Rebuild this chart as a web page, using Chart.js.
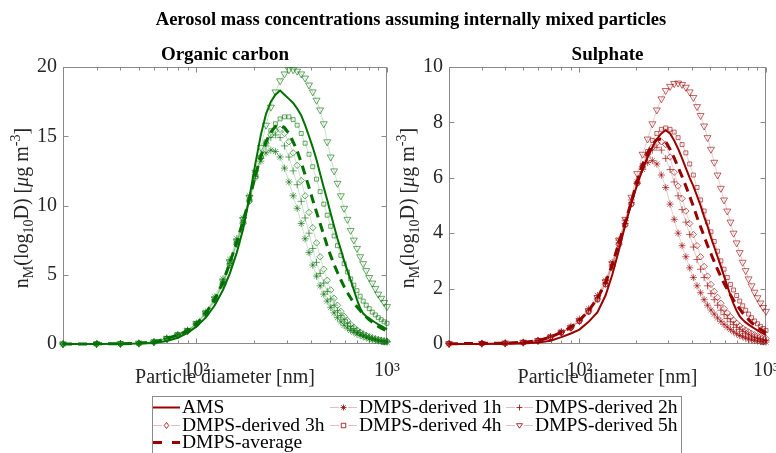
<!DOCTYPE html>
<html lang="en">
<head>
<meta charset="UTF-8">
<title>Aerosol mass concentrations</title>
<script src="https://cdn.jsdelivr.net/npm/chart.js"></script>
<style>
  body { margin: 0; background: #fff; }
  .wrap { position: relative; width: 776px; height: 453px; overflow: hidden; background: #fff; }
  .wrap canvas { position: absolute; left: 0; top: 0; }
</style>
</head>
<body>
<div class="wrap">
  <canvas id="ocChart" width="776" height="453"></canvas>
  <canvas id="so4Chart" width="776" height="453"></canvas>
</div>
<script>
// particle diameters [nm] of the plotted points
const diameters = [20, 30, 40, 50, 60, 70, 80, 90, 100, 112, 125, 138, 150, 163, 176, 190,
  204, 218, 232, 246, 260, 275, 290, 306, 322, 338, 355, 372, 390, 408,
  427, 446, 466, 486, 507, 528, 550, 573, 596, 620, 645, 670, 696, 723,
  750, 778, 807, 837, 868, 900, 933, 966, 1000];

// Organic carbon
const ocAms = [0, 0, 0.01, 0.03, 0.08, 0.22, 0.45, 0.8, 1.25, 1.9, 2.8, 3.9, 5.1, 6.6, 8.3, 10.6,
  13.0, 15.1, 16.6, 17.5, 18.0, 18.3, 18.0, 17.7, 17.4, 17.0, 16.5, 15.8, 15.0, 14.2,
  13.3, 12.3, 11.3, 10.4, 9.4, 8.5, 7.6, 6.8, 6.0, 5.3, 4.6, 3.9, 3.2, 2.6,
  2.2, 2.0, 1.85, 1.7, 1.55, 1.42, 1.3, 1.18, 1.05];
const oc1h = [0, 0.01, 0.02, 0.06, 0.16, 0.42, 0.68, 1.0, 1.5, 2.3, 3.4, 4.7, 6.1, 7.6, 9.1, 10.7,
  12.2, 13.2, 13.8, 14.0, 13.9, 13.5, 12.7, 11.7, 10.7, 9.8, 8.7, 7.6, 6.6, 5.7,
  4.9, 4.2, 3.6, 3.1, 2.65, 2.25, 1.9, 1.6, 1.35, 1.15, 0.98, 0.84, 0.72, 0.62,
  0.53, 0.45, 0.38, 0.32, 0.27, 0.23, 0.19, 0.16, 0.13];
const oc2h = [0, 0.01, 0.02, 0.05, 0.15, 0.4, 0.65, 0.95, 1.45, 2.2, 3.2, 4.4, 5.8, 7.3, 8.8, 10.4,
  12.1, 13.4, 14.3, 14.9, 15.1, 14.9, 14.3, 13.5, 12.5, 11.5, 10.3, 9.1, 8.0, 6.9,
  5.9, 5.1, 4.4, 3.8, 3.25, 2.8, 2.4, 2.05, 1.75, 1.5, 1.28, 1.1, 0.95, 0.82,
  0.7, 0.6, 0.51, 0.43, 0.37, 0.31, 0.26, 0.22, 0.19];
const oc3h = [0, 0.01, 0.02, 0.05, 0.14, 0.38, 0.63, 0.93, 1.4, 2.1, 3.1, 4.3, 5.7, 7.2, 8.7, 10.3,
  12.0, 13.5, 14.5, 15.1, 15.4, 15.5, 15.2, 14.6, 13.8, 12.9, 11.8, 10.7, 9.5, 8.4,
  7.3, 6.3, 5.4, 4.6, 3.9, 3.3, 2.8, 2.35, 2.0, 1.7, 1.42, 1.2, 1.02, 0.86,
  0.73, 0.62, 0.52, 0.44, 0.37, 0.32, 0.27, 0.23, 0.2];
const oc4h = [0, 0.01, 0.02, 0.05, 0.15, 0.4, 0.65, 0.95, 1.45, 2.2, 3.2, 4.4, 5.8, 7.3, 8.8, 10.4,
  12.1, 13.5, 14.6, 15.4, 15.9, 16.25, 16.4, 16.4, 16.2, 15.8, 15.2, 14.5, 13.7, 12.8,
  11.9, 11.0, 10.1, 9.3, 8.5, 7.8, 7.1, 6.4, 5.8, 5.2, 4.7, 4.25, 3.85, 3.45,
  3.1, 2.8, 2.55, 2.3, 2.1, 1.9, 1.75, 1.6, 1.5];
const oc5h = [0, 0.01, 0.02, 0.05, 0.15, 0.4, 0.66, 0.97, 1.47, 2.25, 3.25, 4.5, 5.9, 7.4, 9.0, 10.6,
  12.4, 14.2, 15.8, 17.1, 18.2, 19.0, 19.5, 19.8, 19.8, 19.7, 19.5, 19.2, 18.7, 18.2,
  17.6, 16.9, 15.9, 14.6, 13.5, 12.5, 11.6, 10.7, 9.8, 9.0, 8.2, 7.5, 6.9, 6.3,
  5.8, 5.3, 4.8, 4.4, 4.0, 3.6, 3.3, 3.0, 2.7];
const ocAvg = [0, 0.01, 0.02, 0.05, 0.15, 0.4, 0.65, 0.96, 1.45, 2.21, 3.23, 4.46, 5.86, 7.36, 8.88, 10.48,
  12.16, 13.56, 14.6, 15.3, 15.7, 15.83, 15.62, 15.2, 14.6, 13.94, 13.1, 12.22, 11.3, 10.4,
  9.52, 8.7, 7.88, 7.08, 6.36, 5.73, 5.16, 4.62, 4.14, 3.71, 3.32, 2.98, 2.69, 2.41,
  2.17, 1.95, 1.75, 1.58, 1.42, 1.27, 1.15, 1.04, 0.94];

// Sulphate
const so4Ams = [0, 0, 0.01, 0.02, 0.05, 0.12, 0.25, 0.38, 0.52, 0.8, 1.15, 1.75, 2.5, 3.4, 4.3, 5.1,
  5.75, 6.3, 6.75, 7.1, 7.4, 7.6, 7.72, 7.6, 7.35, 7.05, 6.7, 6.35, 6.0, 5.7,
  5.35, 5.0, 4.6, 4.25, 3.85, 3.5, 3.15, 2.8, 2.45, 2.1, 1.75, 1.45, 1.2, 1.0,
  0.88, 0.78, 0.7, 0.63, 0.56, 0.49, 0.43, 0.38, 0.33];
const so41h = [0.01, 0.02, 0.03, 0.06, 0.13, 0.27, 0.45, 0.64, 0.9, 1.27, 1.75, 2.3, 2.95, 3.75, 4.45, 5.2,
  5.85, 6.3, 6.55, 6.62, 6.5, 6.1, 5.65, 5.05, 4.5, 4.0, 3.55, 3.15, 2.75, 2.4,
  2.1, 1.85, 1.6, 1.4, 1.23, 1.08, 0.94, 0.82, 0.71, 0.61, 0.52, 0.44, 0.37, 0.31,
  0.26, 0.22, 0.18, 0.15, 0.13, 0.11, 0.09, 0.08, 0.07];
const so42h = [0.01, 0.02, 0.03, 0.06, 0.12, 0.25, 0.42, 0.6, 0.85, 1.2, 1.65, 2.2, 2.85, 3.65, 4.35, 5.1,
  5.8, 6.35, 6.75, 7.0, 7.1, 7.0, 6.7, 6.3, 5.85, 5.35, 4.85, 4.4, 3.95, 3.5,
  3.05, 2.7, 2.4, 2.1, 1.82, 1.6, 1.4, 1.22, 1.06, 0.92, 0.8, 0.7, 0.6, 0.52,
  0.45, 0.39, 0.33, 0.28, 0.24, 0.21, 0.18, 0.15, 0.13];
const so43h = [0.01, 0.02, 0.03, 0.06, 0.12, 0.24, 0.41, 0.58, 0.82, 1.16, 1.6, 2.15, 2.8, 3.6, 4.3, 5.05,
  5.8, 6.4, 6.85, 7.1, 7.25, 7.3, 7.2, 6.75, 6.2, 5.7, 5.25, 4.8, 4.35, 3.95,
  3.55, 3.15, 2.8, 2.45, 2.15, 1.9, 1.68, 1.47, 1.28, 1.12, 0.98, 0.86, 0.75, 0.65,
  0.57, 0.5, 0.44, 0.38, 0.33, 0.29, 0.26, 0.23, 0.2];
const so44h = [0.01, 0.02, 0.03, 0.06, 0.12, 0.24, 0.41, 0.58, 0.82, 1.16, 1.6, 2.15, 2.8, 3.6, 4.3, 5.05,
  5.8, 6.45, 6.95, 7.35, 7.6, 7.75, 7.8, 7.75, 7.65, 7.45, 7.2, 6.9, 6.5, 6.1,
  5.65, 5.2, 4.8, 4.4, 4.05, 3.7, 3.35, 3.0, 2.7, 2.4, 2.15, 1.95, 1.75, 1.55,
  1.38, 1.22, 1.08, 0.95, 0.83, 0.73, 0.64, 0.56, 0.49];
const so45h = [0.01, 0.02, 0.03, 0.06, 0.12, 0.25, 0.42, 0.6, 0.85, 1.2, 1.67, 2.25, 2.9, 3.75, 4.5, 5.3,
  6.15, 6.85, 7.4, 7.95, 8.45, 8.85, 9.15, 9.3, 9.4, 9.42, 9.37, 9.27, 9.1, 8.9,
  8.57, 8.25, 7.87, 7.45, 7.03, 6.56, 6.1, 5.62, 5.2, 4.8, 4.4, 4.0, 3.65, 3.3,
  2.95, 2.65, 2.35, 2.1, 1.87, 1.67, 1.48, 1.32, 1.18];
const so4Avg = [0.01, 0.02, 0.03, 0.06, 0.12, 0.25, 0.42, 0.6, 0.85, 1.2, 1.65, 2.21, 2.86, 3.67, 4.38, 5.14,
  5.88, 6.47, 6.9, 7.2, 7.38, 7.4, 7.3, 7.03, 6.72, 6.38, 6.04, 5.7, 5.33, 4.97,
  4.58, 4.23, 3.89, 3.56, 3.26, 2.97, 2.69, 2.43, 2.19, 1.97, 1.77, 1.59, 1.42, 1.27,
  1.12, 1.0, 0.88, 0.77, 0.68, 0.6, 0.53, 0.47, 0.41];

const xTickValues = [20, 30, 40, 50, 60, 70, 80, 90, 100, 200, 300, 400, 500, 600, 700, 800, 900, 1000];
const seriesLabels = ['AMS', 'DMPS-derived 1h', 'DMPS-derived 2h', 'DMPS-derived 3h',
  'DMPS-derived 4h', 'DMPS-derived 5h', 'DMPS-average'];

const FONT = "'Liberation Serif', 'Times New Roman', serif";
const TEXT = '#262626';
const AXIS_GREY = '#8a8a8a';
const GREEN = [0, 112, 0];
const RED = [153, 0, 0];
const rgba = (c, a) => `rgba(${c[0]},${c[1]},${c[2]},${a})`;

function buildDatasets(c, ams, h1, h2, h3, h4, h5, avg) {
  const pts = ys => diameters.map((d, i) => ({x: d, y: ys[i]}));
  const marked = (label, ys, style, r, rot) => ({
    label, data: pts(ys),
    borderColor: rgba(c, 0.2), borderWidth: 1,
    pointStyle: style, pointRadius: r, pointRotation: rot || 0,
    pointBorderColor: rgba(c, 0.6), pointBackgroundColor: 'rgba(0,0,0,0)', pointBorderWidth: 1,
    clip: false
  });
  return [
    {label: seriesLabels[0], data: pts(ams), borderColor: rgba(c, 1), borderWidth: 2, pointRadius: 0, clip: false},
    {label: seriesLabels[6], data: pts(avg), borderColor: rgba(c, 1), borderWidth: 3, borderDash: [9, 6], pointRadius: 0, clip: false},
    marked(seriesLabels[1], h1, 'star', 3.6),
    marked(seriesLabels[2], h2, 'cross', 3.6),
    marked(seriesLabels[3], h3, 'rectRot', 3.2),
    marked(seriesLabels[4], h4, 'rect', 2.8),
    marked(seriesLabels[5], h5, 'triangle', 4, 180)
  ];
}

// y label with sub/superscripts, drawn rotated
const yLabelParts = [['n', 0], ['M', 1], ['(log', 0], ['10', 1], ['D) [', 0], ['\u03bc', 3], ['g m', 0], ['-3', 2], [']', 0]];
function drawYLabel(ctx, baseX, centerY) {
  const fontFor = k => k === 1 || k === 2 ? `14px ${FONT}` : k === 3 ? `italic 20px ${FONT}` : `20px ${FONT}`;
  let total = 0;
  yLabelParts.forEach(([t, k]) => { ctx.font = fontFor(k); total += ctx.measureText(t).width; });
  ctx.save();
  ctx.translate(baseX, centerY);
  ctx.rotate(-Math.PI / 2);
  ctx.fillStyle = TEXT;
  ctx.textAlign = 'left';
  ctx.textBaseline = 'alphabetic';
  let x = -total / 2;
  yLabelParts.forEach(([t, k]) => {
    ctx.font = fontFor(k);
    ctx.fillText(t, x, k === 1 ? 5 : k === 2 ? -8 : 0);
    x += ctx.measureText(t).width;
  });
  ctx.restore();
}

function drawMarker(ctx, style, x, y, r) {
  ctx.beginPath();
  if (style === 'star' || style === 'cross') {
    ctx.moveTo(x - r, y); ctx.lineTo(x + r, y);
    ctx.moveTo(x, y - r); ctx.lineTo(x, y + r);
    if (style === 'star') {
      const d = r * 0.7;
      ctx.moveTo(x - d, y - d); ctx.lineTo(x + d, y + d);
      ctx.moveTo(x - d, y + d); ctx.lineTo(x + d, y - d);
    }
  } else if (style === 'rectRot') {
    ctx.moveTo(x, y - r); ctx.lineTo(x + r * 0.75, y); ctx.lineTo(x, y + r); ctx.lineTo(x - r * 0.75, y); ctx.closePath();
  } else if (style === 'rect') {
    ctx.rect(x - r * 0.75, y - r * 0.75, r * 1.5, r * 1.5);
  } else if (style === 'triangleDown') {
    ctx.moveTo(x - r, y - r * 0.6); ctx.lineTo(x + r, y - r * 0.6); ctx.lineTo(x, y + r * 0.9); ctx.closePath();
  }
  ctx.stroke();
}

const legendItems = [
  {label: seriesLabels[0], kind: 'solid', col: 0, row: 0},
  {label: seriesLabels[1], kind: 'star', col: 1, row: 0},
  {label: seriesLabels[2], kind: 'cross', col: 2, row: 0},
  {label: seriesLabels[3], kind: 'rectRot', col: 0, row: 1},
  {label: seriesLabels[4], kind: 'rect', col: 1, row: 1},
  {label: seriesLabels[5], kind: 'triangleDown', col: 2, row: 1},
  {label: seriesLabels[6], kind: 'dash', col: 0, row: 2}
];
function drawLegend(ctx) {
  const colX = [153, 330, 506];
  const rowY = [407, 425, 442];
  ctx.save();
  ctx.fillStyle = '#fff';
  ctx.fillRect(152, 396, 529, 70);
  ctx.strokeStyle = AXIS_GREY;
  ctx.lineWidth = 1;
  ctx.strokeRect(152.5, 396.5, 529, 70);
  ctx.font = `19.5px ${FONT}`;
  ctx.textBaseline = 'middle';
  ctx.textAlign = 'left';
  legendItems.forEach(it => {
    const x0 = colX[it.col], y = rowY[it.row] + 0.5;
    ctx.setLineDash([]);
    if (it.kind === 'solid') {
      ctx.strokeStyle = rgba(RED, 1); ctx.lineWidth = 2;
      ctx.beginPath(); ctx.moveTo(x0, y); ctx.lineTo(x0 + 27, y); ctx.stroke();
    } else if (it.kind === 'dash') {
      ctx.strokeStyle = rgba(RED, 1); ctx.lineWidth = 3;
      ctx.beginPath(); ctx.moveTo(x0, y); ctx.lineTo(x0 + 9, y); ctx.moveTo(x0 + 19, y); ctx.lineTo(x0 + 27, y); ctx.stroke();
    } else {
      ctx.strokeStyle = rgba(RED, 0.25); ctx.lineWidth = 1;
      ctx.beginPath(); ctx.moveTo(x0, y); ctx.lineTo(x0 + 9, y); ctx.moveTo(x0 + 18, y); ctx.lineTo(x0 + 27, y); ctx.stroke();
      ctx.strokeStyle = rgba(RED, 0.8);
      drawMarker(ctx, it.kind, x0 + 13.5, y, 3);
    }
    ctx.fillStyle = '#000';
    ctx.fillText(it.label, x0 + 29, rowY[it.row] + 1);
  });
  ctx.restore();
}

const panelDecor = {
  id: 'panelDecor',
  beforeDatasetsDraw(chart, args, opts) {
    const {ctx, chartArea: a, scales: {x, y}} = chart;
    const L = Math.round(a.left) + 0.5, R = Math.round(a.right) - 0.5;
    const T = Math.round(a.top) + 0.5, B = Math.round(a.bottom) - 0.5;
    ctx.save();
    ctx.fillStyle = '#fff';
    ctx.fillRect(a.left, a.top, a.right - a.left, a.bottom - a.top);
    ctx.strokeStyle = AXIS_GREY;
    ctx.lineWidth = 1;
    ctx.strokeRect(L, T, R - L, B - T);
    ctx.beginPath();
    x.ticks.forEach(t => {
      const px = Math.round(x.getPixelForValue(t.value)) + 0.5;
      const len = (t.value === 100 || t.value === 1000) ? 5 : 3;
      ctx.moveTo(px, B); ctx.lineTo(px, B - len);
      ctx.moveTo(px, T); ctx.lineTo(px, T + len);
    });
    y.ticks.forEach(t => {
      const py = Math.round(y.getPixelForValue(t.value)) + 0.5;
      ctx.moveTo(L, py); ctx.lineTo(L + 5, py);
      ctx.moveTo(R, py); ctx.lineTo(R - 5, py);
    });
    ctx.stroke();
    ctx.restore();
  },
  afterDraw(chart, args, opts) {
    const {ctx, chartArea: a} = chart;
    ctx.save();
    ctx.fillStyle = '#000';
    ctx.textAlign = 'center';
    ctx.textBaseline = 'alphabetic';
    ctx.font = `bold 19px ${FONT}`;
    ctx.fillText(opts.title, (a.left + a.right) / 2, 60);
    if (opts.suptitle) {
      ctx.font = `bold 18.5px ${FONT}`;
      ctx.fillText(opts.suptitle, 411, 25);
    }
    ctx.restore();
    drawYLabel(ctx, a.left - 35, 208);
    if (opts.legend) drawLegend(ctx);
  }
};

function panelOptions(yMax, yStep, padLeft, padRight, decor) {
  return {
    responsive: false,
    animation: false,
    events: [],
    layout: {padding: {left: padLeft, right: padRight, top: 67, bottom: 49}},
    plugins: {legend: {display: false}, tooltip: {enabled: false}, panelDecor: decor},
    scales: {
      x: {
        type: 'logarithmic', min: 20, max: 1000,
        afterBuildTicks: s => { s.ticks = xTickValues.map(v => ({value: v})); },
        // fixed axis box; no extra room for the overhanging end label
        afterFit: s => { s.height = 60; s.paddingLeft = 0; s.paddingRight = 0; },
        grid: {display: false, drawTicks: false},
        border: {display: false},
        ticks: {
          autoSkip: false, maxRotation: 0, padding: 15, color: TEXT,
          font: {family: FONT, size: 20},
          callback: v => v === 100 ? '10\u00b2' : v === 1000 ? '10\u00b3' : ''
        },
        title: {display: true, text: 'Particle diameter [nm]', color: TEXT,
          font: {family: FONT, size: 20}, padding: {top: 0, bottom: 14}}
      },
      y: {
        min: 0, max: yMax,
        afterFit: s => { s.width = 63; s.paddingTop = 0; s.paddingBottom = 0; },
        grid: {display: false, drawTicks: false},
        border: {display: false},
        ticks: {stepSize: yStep, padding: 6, color: TEXT, font: {family: FONT, size: 20}}
      }
    }
  };
}

new Chart(document.getElementById('ocChart'), {
  type: 'line',
  data: {datasets: buildDatasets(GREEN, ocAms, oc1h, oc2h, oc3h, oc4h, oc5h, ocAvg)},
  options: panelOptions(20, 5, 0, 389, {title: 'Organic carbon',
    suptitle: 'Aerosol mass concentrations assuming internally mixed particles'}),
  plugins: [panelDecor]
});

new Chart(document.getElementById('so4Chart'), {
  type: 'line',
  data: {datasets: buildDatasets(RED, so4Ams, so41h, so42h, so43h, so44h, so45h, so4Avg)},
  options: panelOptions(10, 2, 386, 10, {title: 'Sulphate', legend: true}),
  plugins: [panelDecor]
});
</script>
</body>
</html>
